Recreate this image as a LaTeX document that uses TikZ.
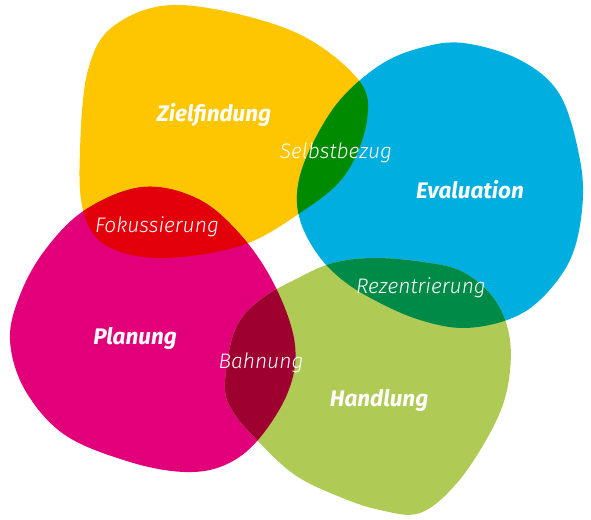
\documentclass[tikz,border=0pt]{standalone}
\usepackage{fontspec}
\setmainfont{Fira Sans}
\newfontfamily\leicht{Fira Sans Light}
\definecolor{zielgelb}{RGB}{253,198,0}
\definecolor{evalblau}{RGB}{0,174,224}
\definecolor{planmagenta}{RGB}{226,0,122}
\definecolor{handgruen}{RGB}{176,202,86}
\definecolor{fokusrot}{RGB}{226,0,10}
\definecolor{selbstgruen}{RGB}{0,138,0}
\definecolor{rezentgruen}{RGB}{0,138,72}
\definecolor{bahnrot}{RGB}{158,0,48}
\tikzset{
  hauptlabel/.style = {text = white, font = \fontsize{22.5}{26}\selectfont\bfseries\itshape},
  zwischenlabel/.style = {text = white, font = \fontsize{21}{25}\selectfont\leicht\itshape}
}
\def\ziel{plot[smooth cycle, tension = 0.6] coordinates {(180,5) (290,30) (357,78) (367,120) (345,175) (300,213) (240,246) (160,258) (105,245) (83,210) (80,150) (88,70) (115,25)}}
\def\eval{plot[smooth cycle, tension = 0.6] coordinates {(463,43) (520,60) (560,95) (580,160) (582,210) (570,260) (540,300) (507,320) (463,328) (420,320) (380,303) (345,282) (318,255) (300,220) (298,185) (312,145) (340,100) (380,65) (420,48)}}
\def\plan{plot[smooth cycle, tension = 0.6] coordinates {(143,187) (200,200) (245,240) (277,290) (295,345) (288,392) (258,440) (225,465) (185,472) (130,462) (65,435) (25,390) (10,340) (20,295) (45,250) (85,210)}}
\def\hand{plot[smooth cycle, tension = 0.6] coordinates {(373,258) (423,262) (463,272) (495,300) (510,340) (507,390) (490,433) (457,483) (420,513) (380,510) (340,497) (295,475) (257,440) (232,410) (225,383) (235,330) (260,300) (300,277) (333,263)}}
\begin{document}
\begin{tikzpicture}[x = 1pt, y = -1pt]
    \useasboundingbox (0,0) rectangle (591,519);
    \fill[zielgelb] \ziel;
    \fill[evalblau] \eval;
    \fill[planmagenta] \plan;
    \fill[handgruen] \hand;
    % overlaps
    \begin{scope}
        \clip \ziel;
        \fill[fokusrot] \plan;
        \fill[selbstgruen] \eval;
    \end{scope}
    \begin{scope}
        \clip \hand;
        \fill[bahnrot] \plan;
        \fill[rezentgruen] \eval;
    \end{scope}
    \node[hauptlabel] (zielfindung) at (214,115) {Zielfindung};
    \node[hauptlabel] (evaluation) at (470,190) {Evaluation};
    \node[hauptlabel] (planung) at (135,338) {Planung};
    \node[hauptlabel] (handlung) at (379,400) {Handlung};
    \node[zwischenlabel] (selbstbezug) at (336,153) {Selbstbezug};
    \node[zwischenlabel] (fokussierung) at (157,227) {Fokussierung};
    \node[zwischenlabel] (bahnung) at (261,363) {Bahnung};
    \node[zwischenlabel] (rezentrierung) at (421,288) {Rezentrierung};
\end{tikzpicture}
\end{document}
